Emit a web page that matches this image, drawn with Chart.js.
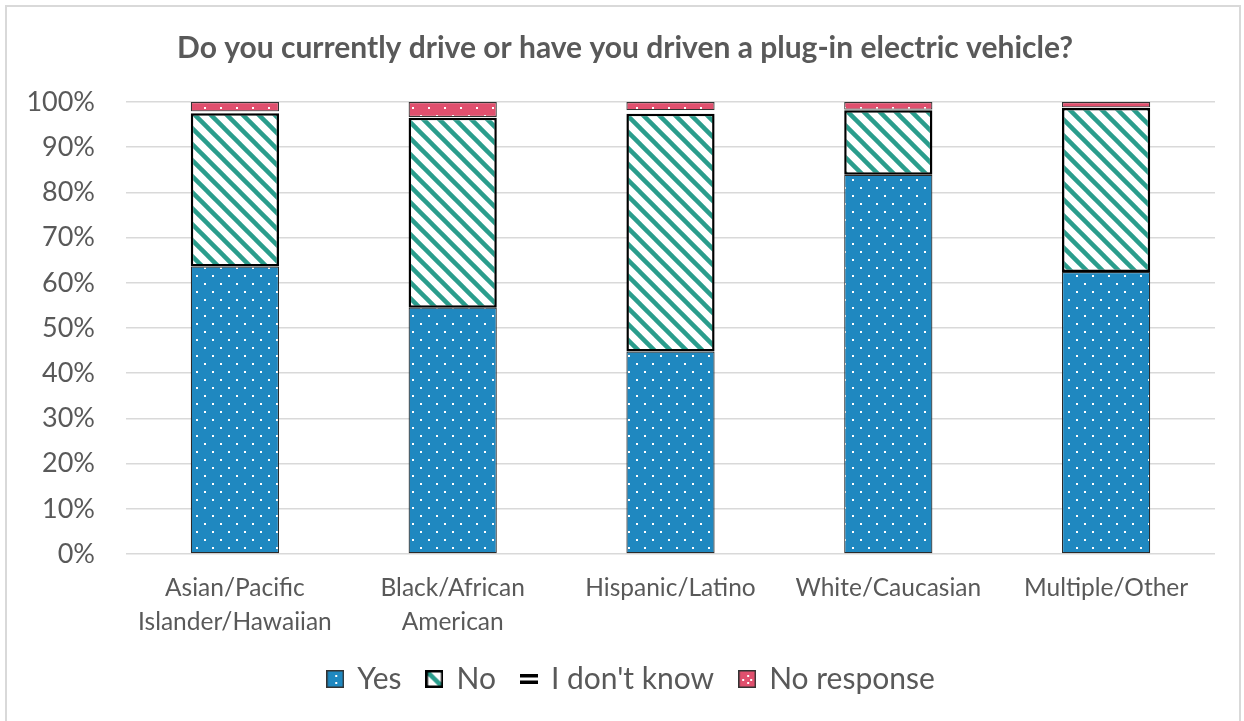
<!DOCTYPE html>
<html>
<head>
<meta charset="utf-8">
<title>Plug-in EV experience by ethnicity</title>
<script src="https://cdn.jsdelivr.net/npm/chart.js@4.4.1/dist/chart.umd.min.js"></script>
<style>
  html, body { margin: 0; padding: 0; background: #fff; }
  #wrap { position: relative; width: 1244px; height: 721px; overflow: hidden; }
  #frame { position: absolute; left: 5px; top: 5px; width: 1236px; height: 730px;
           border: 2px solid #d9d9d9; box-sizing: border-box; }
  #chart { position: absolute; left: 0; top: 0; }
</style>
</head>
<body>
<div id="wrap">
  <div id="frame"></div>
  <canvas id="chart" width="1244" height="721"></canvas>
</div>
<script>
// survey answers, percent of respondents in each group
var groups = [["Asian/Pacific", "Islander/Hawaiian"], ["Black/African", "American"], "Hispanic/Latino", "White/Caucasian", "Multiple/Other"];
var yes = [63.6, 54.5, 44.8, 83.9, 62.4];
var no = [33.9, 42.0, 52.6, 14.3, 36.3];
var dontKnow = [0.4, 0.2, 0.8, 0.1, 0.1];
var noResponse = [2.1, 3.3, 1.8, 1.7, 1.2];
var yTicks = [0, 10, 20, 30, 40, 50, 60, 70, 80, 90, 100];

var BLUE = "#1f88c0";
var TEAL = "#2a9d8c";
var PINK = "#e0506e";
var GREY = "#595959";

// white dots on a colour, staggered rows
function dotTile(color) {
  var c = document.createElement("canvas");
  c.width = 16; c.height = 16;
  var g = c.getContext("2d");
  g.fillStyle = color;
  g.fillRect(0, 0, 16, 16);
  g.fillStyle = "#fff";
  g.fillRect(4, 3, 2, 2);
  g.fillRect(12, 11, 2, 2);
  return c;
}

// wide downward diagonal stripes
function stripeTile(color) {
  var c = document.createElement("canvas");
  c.width = 16; c.height = 16;
  var g = c.getContext("2d");
  g.fillStyle = "#fff";
  g.fillRect(0, 0, 16, 16);
  g.strokeStyle = color;
  g.lineWidth = 4.5;
  for (var k = -1; k <= 1; k++) {
    g.beginPath();
    g.moveTo(k * 16 - 2, -2);
    g.lineTo(k * 16 + 18, 18);
    g.stroke();
  }
  return c;
}

var ctx = document.getElementById("chart").getContext("2d");
var yesFill = ctx.createPattern(dotTile(BLUE), "repeat");
var noFill = ctx.createPattern(stripeTile(TEAL), "repeat");
var nrFill = ctx.createPattern(dotTile(PINK), "repeat");

function legendIcon(kind) {
  var c = document.createElement("canvas");
  c.width = 18; c.height = 18;
  var g = c.getContext("2d");
  if (kind == "idk") {
    g.fillStyle = "#000";
    g.fillRect(0, 4, 18, 3.5);
    g.fillRect(0, 10.5, 18, 3.5);
    return c;
  }
  if (kind == "no") {
    g.fillStyle = g.createPattern(stripeTile(TEAL), "repeat");
    g.fillRect(0, 0, 18, 18);
    g.strokeStyle = "#000";
    g.lineWidth = 2.5;
    g.strokeRect(1.25, 1.25, 15.5, 15.5);
    return c;
  }
  g.fillStyle = kind == "yes" ? BLUE : PINK;
  g.fillRect(0, 0, 18, 18);
  g.fillStyle = "#fff";
  g.fillRect(9, 5, 2, 2);
  g.fillRect(9, 12, 2, 2);
  if (kind == "nr") { g.fillRect(4, 9, 2, 2); g.fillRect(12, 9, 2, 2); }
  g.strokeStyle = "#333";
  g.lineWidth = 1.5;
  g.strokeRect(0.75, 0.75, 16.5, 16.5);
  return c;
}
var icons = [legendIcon("yes"), legendIcon("no"), legendIcon("idk"), legendIcon("nr")];

// title and legend sit centred on the whole frame, not on the padded box
var nudge = {
  id: "nudge",
  afterLayout: function(chart) {
    chart.titleBlock.left += 15;
    chart.legend.left += 28;
  }
};

new Chart(ctx, {
  type: "bar",
  data: {
    labels: groups,
    datasets: [
      { label: "Yes", data: yes, backgroundColor: yesFill, borderColor: "#2b2b2b", borderWidth: 1.2, borderSkipped: false },
      { label: "No", data: no, backgroundColor: noFill, borderColor: "#000", borderWidth: 2.5, borderSkipped: false },
      { label: "I don't know", data: dontKnow, backgroundColor: "#fff", borderWidth: 0 },
      { label: "No response", data: noResponse, backgroundColor: nrFill, borderColor: "#333", borderWidth: 1.2, borderSkipped: false }
    ]
  },
  options: {
    responsive: false,
    animation: false,
    datasets: { bar: { categoryPercentage: 1, barPercentage: 0.405 } },
    layout: { padding: { left: 20, right: 29, top: 0, bottom: 17 } },
    scales: {
      x: {
        stacked: true,
        grid: { display: false, drawTicks: false },
        border: { display: false },
        afterFit: function(s) { s.height = 84; },
        ticks: { color: GREY, font: { family: "Lato", size: 24.5, lineHeight: 1.35 }, padding: 18, maxRotation: 0 }
      },
      y: {
        stacked: true,
        min: 0, max: 100,
        afterBuildTicks: function(s) { s.ticks = yTicks.map(function(v) { return { value: v }; }); },
        afterFit: function(s) { s.width = 106; },
        grid: { color: "#d9d9d9", lineWidth: 1.5, drawTicks: false },
        border: { display: false },
        ticks: { color: GREY, font: { family: "Lato", size: 27 }, padding: 31,
                 callback: function(v) { return v + "%"; } }
      }
    },
    plugins: {
      title: {
        display: true,
        text: "Do you currently drive or have you driven a plug-in electric vehicle?",
        color: GREY,
        font: { family: "Lato", size: 30, weight: "bold" },
        padding: { top: 30, bottom: 36 }
      },
      legend: {
        position: "bottom",
        labels: {
          usePointStyle: true,
          color: GREY,
          font: { family: "Lato", size: 30 },
          padding: 26,
          boxWidth: 14, boxHeight: 18,
          generateLabels: function(chart) {
            return chart.data.datasets.map(function(ds, i) {
              return { text: ds.label, pointStyle: icons[i], fillStyle: "#fff", strokeStyle: "#fff",
                       lineWidth: 0, hidden: false, datasetIndex: i, fontColor: GREY };
            });
          }
        }
      },
      tooltip: { enabled: false }
    }
  },
  plugins: [nudge]
});
</script>
</body>
</html>
